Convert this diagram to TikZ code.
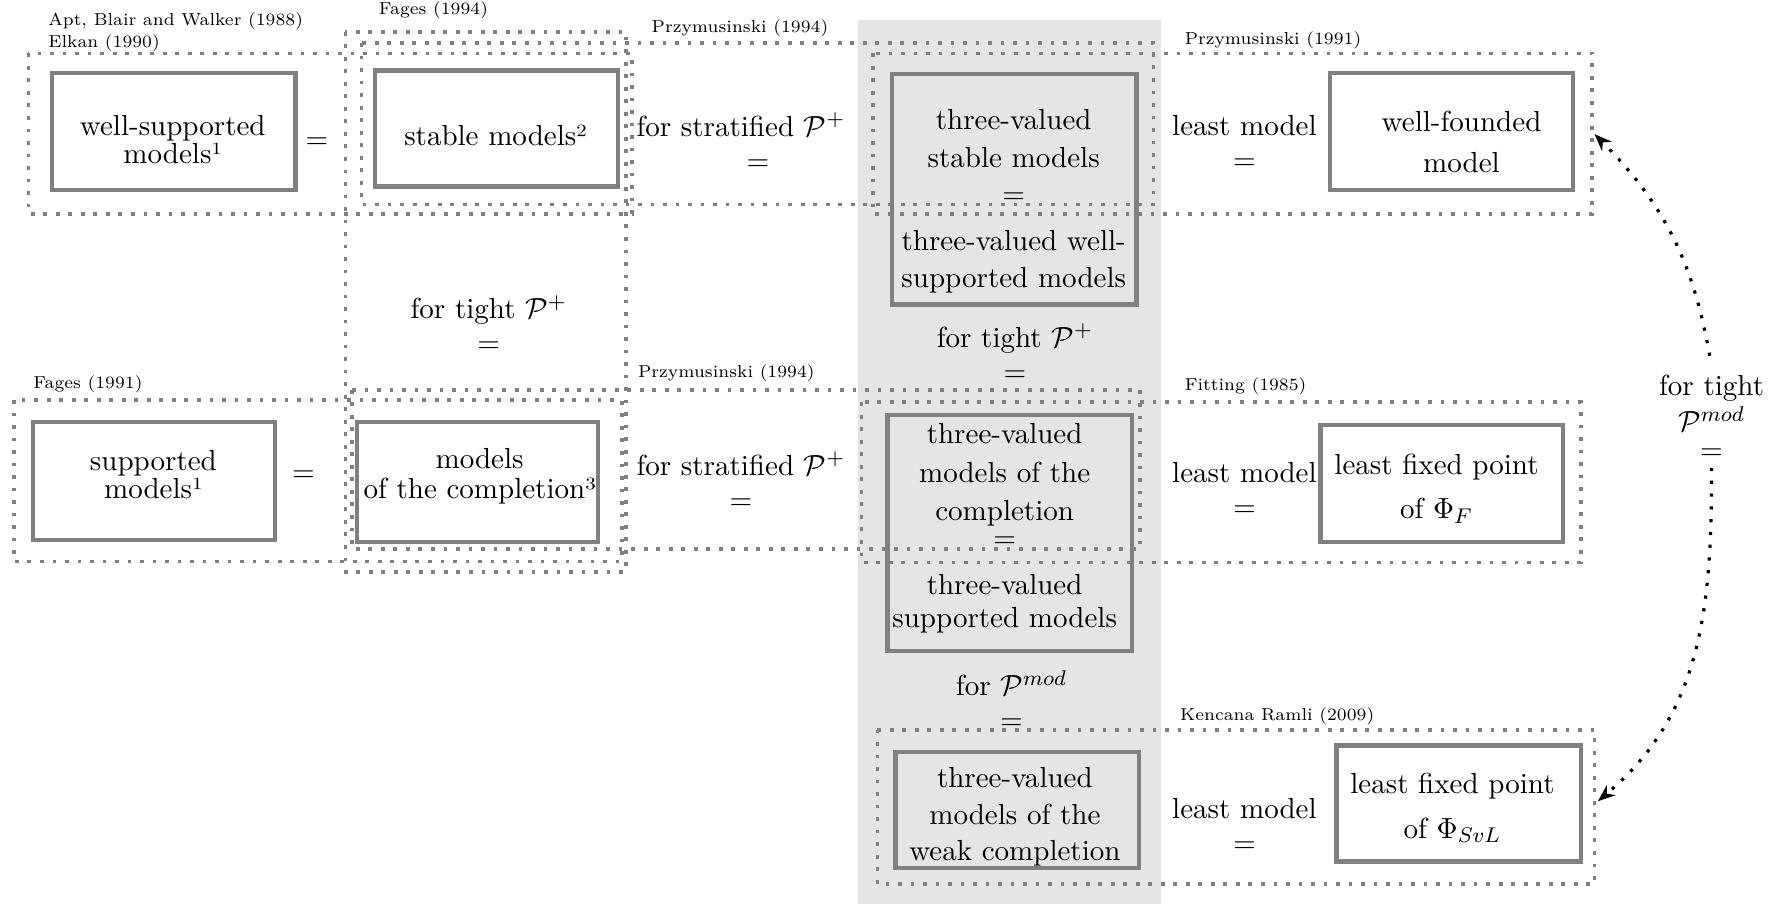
\documentclass[tikz,border=0pt]{standalone}
\usepackage{amsmath}
\usepackage{tikz}
\usetikzlibrary{arrows.meta}

\begin{document}
\begin{tikzpicture}[x=0.015cm, y=-0.015cm]

% Define styles
\tikzstyle{modelbox} = [draw=gray, line width=1.6pt]
\tikzstyle{citebox} = [draw=gray, line width=1.4pt, dash pattern=on 1.4pt off 3.3pt]
\tikzstyle{modeltext} = [align=center, inner sep=0pt, font=\fontsize{10.9}{14.5}\selectfont]
\tikzstyle{eqtext} = [align=center, inner sep=3pt, font=\fontsize{10.9}{12.8}\selectfont]
\tikzstyle{reftext} = [anchor=west, align=left, inner sep=0pt, font=\fontsize{6.5}{8.2}\selectfont]
\tikzstyle{impl} = [black, line width=1.2pt, dash pattern=on 1.2pt off 3.6pt, -{Stealth[length=6.5pt, width=5pt]}]

\useasboundingbox (0,0) rectangle (1568,795);

% Three-valued column
\fill[gray!20] (755,18) rectangle (1022,795);

% Citation boxes
\draw[citebox] (25,47) rectangle (556,188);   % Apt, Blair and Walker / Elkan
\draw[citebox] (304,28) rectangle (551,503);  % Fages 1994
\draw[citebox] (318,38) rectangle (1015,180); % Przymusinski 1994
\draw[citebox] (768,47) rectangle (1401,188); % Przymusinski 1991
\draw[citebox] (12,352) rectangle (547,494);  % Fages 1991
\draw[citebox] (310,343) rectangle (1003,483); % Przymusinski 1994
\draw[citebox] (758,354) rectangle (1391,495); % Fitting 1985
\draw[citebox] (772,642) rectangle (1403,778); % Kencana Ramli 2009

% Citation labels
\node[reftext] (apt) at (42,28.5) {Apt, Blair and Walker (1988)\\Elkan (1990)};
\node[reftext] (fagesa) at (333,9) {Fages (1994)};
\node[reftext] (przya) at (573,25) {Przymusinski (1994)};
\node[reftext] (przyb) at (1042,35) {Przymusinski (1991)};
\node[reftext] (fagesb) at (29,338) {Fages (1991)};
\node[reftext] (przyc) at (561,328) {Przymusinski (1994)};
\node[reftext] (fitting) at (1042,340) {Fitting (1985)};
\node[reftext] (ramli) at (1038,630) {Kencana Ramli (2009)};

% Top row
\draw[modelbox] (46,64) rectangle (260,167);
\node[modeltext, font=\fontsize{10.9}{10.5}\selectfont] (wsm) at (152,123) {well-supported\\models¹};
\draw[modelbox] (330,62) rectangle (544,164);
\node[modeltext] (stm) at (436,119) {stable models²};
\draw[modelbox] (785,65) rectangle (1000,268);
\node[modeltext] (tvsm) at (892,177) {three-valued\\stable models\\[-1pt]$=$\\[3pt]three-valued well-\\[-0.5pt]supported models};
\draw[modelbox] (1170,64) rectangle (1384,167);
\node[modeltext, font=\fontsize{10.9}{15.2}\selectfont] (wfm) at (1286,125) {well-founded\\model};

% Middle row
\draw[modelbox] (29,371) rectangle (242,475);
\node[modeltext, font=\fontsize{10.9}{10.5}\selectfont] (supm) at (135,418) {supported\\models¹};
\draw[modelbox] (314,371) rectangle (526,477);
\node[modeltext, font=\fontsize{10.9}{11}\selectfont] (compm) at (422,419) {models\\of the completion³};
\draw[modelbox] (781,365) rectangle (996,573);
\node[modeltext] (tvcm) at (884,465) {three-valued\\models of the\\completion\\[-4.3pt]$=$\\[3pt]three-valued\\[-2pt]supported models};
\draw[modelbox] (1162,374) rectangle (1375,477);
\node[modeltext, font=\fontsize{10.9}{16.5}\selectfont] (lfpf) at (1264,430) {least fixed point\\of $\Phi_F$};

% Bottom row
\draw[modelbox] (788,662) rectangle (1002,764);
\node[modeltext, font=\fontsize{10.9}{13.7}\selectfont] (wcm) at (893,719) {three-valued\\models of the\\weak completion};
\draw[modelbox] (1176,656) rectangle (1391,758);
\node[modeltext, font=\fontsize{10.9}{16.6}\selectfont] (lfpsvl) at (1278,711) {least fixed point\\of $\Phi_{SvL}$};

% Equalities
\node[eqtext] (eqa) at (279,126) {$=$};
\node[eqtext] (strata) at (652,124.5) {for stratified $\mathcal{P}^+$\\\hspace*{12.8pt}$=$};
\node[eqtext] (leasta) at (1095,125) {least model\\$=$};
\node[eqtext] (tighta) at (430,285) {for tight $\mathcal{P}^+$\\$=$};
\node[eqtext] (tightb) at (893,310) {for tight $\mathcal{P}^+$\\$=$};
\node[eqtext] (eqb) at (267,419) {$=$};
\node[eqtext] (stratb) at (652,423) {for stratified $\mathcal{P}^+$\\$=$};
\node[eqtext] (leastb) at (1095,430.5) {least model\\$=$};
\node[eqtext] (formod) at (890,616) {for $\mathcal{P}^{mod}$\\$=$};
\node[eqtext] (leastc) at (1095,726.5) {least model\\$=$};
\node[eqtext] (tightmod) at (1506,367) {for tight\\[1pt]$\mathcal{P}^{mod}$\\[-2.5pt]$=$};

% Tight P^mod arrows
\coordinate (wfin) at (1403,118);
\coordinate (svlin) at (1406,705);
\draw[impl, shorten <=4pt] (tightmod.north) to[out=100, in=-45] (wfin);
\draw[impl] (tightmod.south) to[out=-90, in=40] (svlin);

\end{tikzpicture}
\end{document}
